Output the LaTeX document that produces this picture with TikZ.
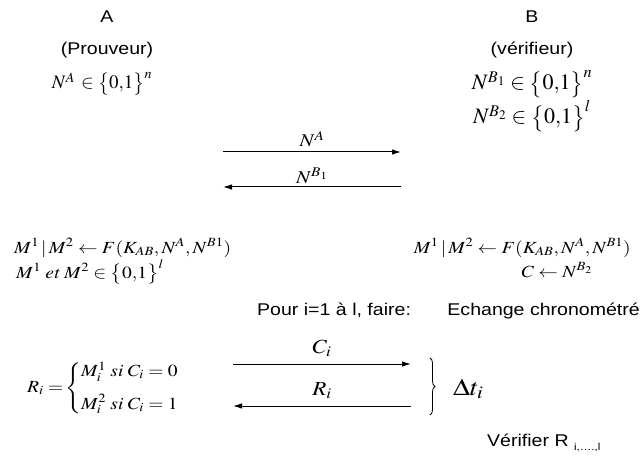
\documentclass[tikz,border=0pt]{standalone}
\usepackage{amsmath}
\usepackage{graphicx}
\usepackage{mathptmx}
\usepackage[no-math]{fontspec}
\setmainfont{Liberation Sans}
\usetikzlibrary{arrows.meta,decorations.pathreplacing}
\newcommand{\wx}[1]{\scalebox{1.15}[1]{#1}}
\tikzset{
  lbl/.style={inner sep=0pt, anchor=base, font=\fontsize{17}{20}\selectfont},
  mth/.style={inner sep=0pt, anchor=base, font=\fontsize{#1}{#1}\selectfont},
  msg/.style={line width=1pt, -{Latex[length=9pt,width=5.5pt]}},
}
\begin{document}
\begin{tikzpicture}[x=1pt,y=-1pt]
\useasboundingbox (0,0) rectangle (642,457);
% headers
\node[lbl] (A) at (107,22.5) {\wx{A}};
\node[lbl] (prouv) at (107,55) {\wx{(Prouveur)}};
\node[mth=19] (NA) at (102,89) {$N^{A}\,\in\bigl\{0{,}1\bigr\}^{n}$};
\node[lbl] (B) at (532,22.5) {\wx{B}};
\node[lbl] (verif) at (532,55) {\wx{(vérifieur)}};
\node[mth=22] (NB1) at (532,90) {$N^{B_1}\in\bigl\{0{,}1\bigr\}^{n}$};
\node[mth=22] (NB2) at (532,124) {$N^{B_2}\in\bigl\{0{,}1\bigr\}^{l}$};
% first exchange
\coordinate (a1s) at (223,152); \coordinate (a1e) at (401,152);
\coordinate (a2s) at (401,187); \coordinate (a2e) at (223,187);
\draw[msg] (a1s) -- (a1e);
\draw[msg] (a2s) -- (a2e);
\node[mth=18] (lNA) at (312,147) {\wx{$N^{A}$}};
\node[mth=18] (lNB) at (312,183) {\wx{$N^{B_1}$}};
% computations
\node[mth=17, anchor=base west] (fl1) at (14,253) {\wx{$M^1\,|\,M^2\leftarrow F(K_{AB},N^{A},N^{B1})$}};
\node[mth=17, anchor=base west] (fl2) at (16,278) {\wx{$M^1\;\mathit{et}\;M^2\in\bigl\{0{,}1\bigr\}^{l}$}};
\node[mth=17, anchor=base east] (fr1) at (631,253) {\wx{$M^1\,|\,M^2\leftarrow F(K_{AB},N^{A},N^{B1})$}};
\node[mth=17] (fr2) at (557,277) {\wx{$C\leftarrow N^{B_2}$}};
% loop
\node[lbl, anchor=base west] (pour) at (257,315) {\wx{Pour i=1 à l, faire:}};
\node[lbl, anchor=base east] (ech) at (640,315) {\wx{Echange chronométré}};
\node[mth=17, anchor=west] (Ri) at (27,388) {\wx{$R_i=\!\left\{\begin{array}{@{}l@{}} M_i^1\;\mathit{si}\;C_i=0\\[13pt] M_i^2\;\mathit{si}\;C_i=1\end{array}\right.$}};
\coordinate (c1s) at (233,364); \coordinate (c1e) at (411,364);
\coordinate (c2s) at (411,406); \coordinate (c2e) at (233,406);
\draw[msg] (c1s) -- (c1e);
\draw[msg] (c2s) -- (c2e);
\node[mth=20] (lC) at (322,353) {\wx{$C_i$}};
\node[mth=20] (lR) at (322,395) {\wx{$R_i$}};
\coordinate (br1) at (430,358); \coordinate (br2) at (430,415);
\draw[line width=0.8pt, decorate, decoration={brace, amplitude=5pt}] (br1) -- (br2);
\node[mth=24, anchor=base west] (dt) at (453,395) {\wx{$\Delta t_i$}};
\node[lbl, anchor=base west] (ver) at (487,446) {\wx{Vérifier R \raisebox{-0.5ex}{\fontsize{10}{10}\selectfont i,….,l}}};
\end{tikzpicture}
\end{document}
